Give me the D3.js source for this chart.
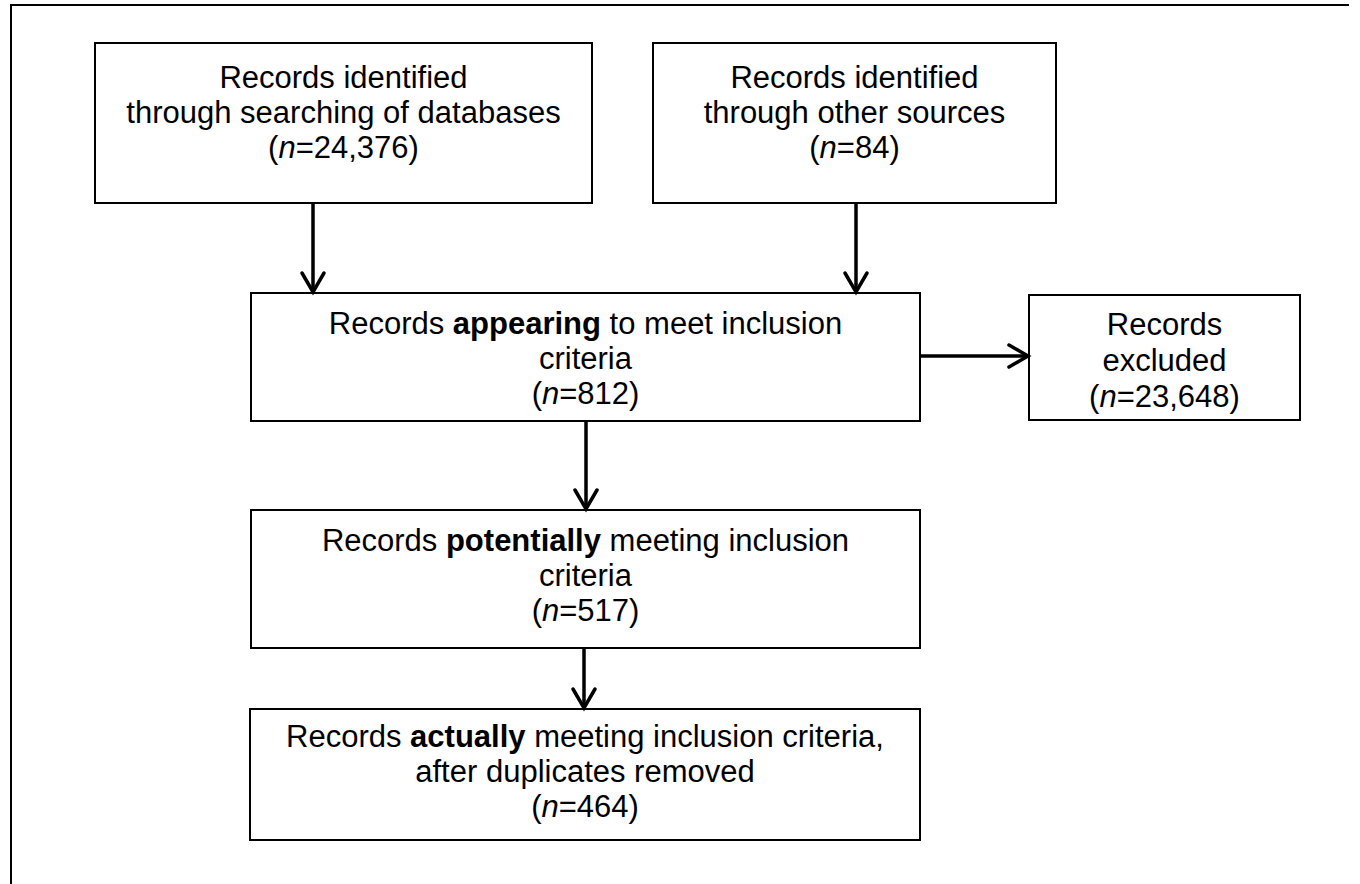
<!DOCTYPE html>
<html>
<head>
<meta charset="utf-8">
<script src="https://cdn.jsdelivr.net/npm/d3@7"></script>
<style>
  html, body { margin: 0; padding: 0; background: #fff; }
  svg { display: block; }
  text { font-family: "Liberation Sans", Arial, sans-serif; font-size: 31px; fill: #000; }
</style>
</head>
<body>
<svg id="chart" width="1360" height="884"></svg>
<script>
// ---- Data ----
const stageIds = ["db", "other", "appearing", "potential", "actual", "excluded"];
const stageLabels = [
  "Records identified|through searching of databases",
  "Records identified|through other sources",
  "Records **appearing** to meet inclusion|criteria",
  "Records **potentially** meeting inclusion|criteria",
  "Records **actually** meeting inclusion criteria,|after duplicates removed",
  "Records|excluded"
];
const stageCounts = [24376, 84, 812, 517, 464, 23648];
const linkSources = ["db", "other", "appearing", "potential", "appearing"];
const linkTargets = ["appearing", "appearing", "potential", "actual", "excluded"];

// ---- Layout (positions, not data) ----
const layout = {
  db:        { x0: 95,   y0: 43,  x1: 592,  y1: 203, first: 88,  gap: 35 },
  other:     { x0: 653,  y0: 43,  x1: 1056, y1: 203, first: 88,  gap: 35 },
  appearing: { x0: 251,  y0: 293, x1: 920,  y1: 421, first: 334, gap: 35 },
  potential: { x0: 251,  y0: 510, x1: 920,  y1: 648, first: 551, gap: 35 },
  actual:    { x0: 250,  y0: 709, x1: 920,  y1: 840, first: 747, gap: 35 },
  excluded:  { x0: 1029, y0: 295, x1: 1300, y1: 420, first: 335, gap: 36 }
};
const arrowGeom = [
  { x1: 313, y1: 203, x2: 313, y2: 292 },
  { x1: 856, y1: 203, x2: 856, y2: 292 },
  { x1: 586, y1: 421, x2: 586, y2: 509 },
  { x1: 584, y1: 648, x2: 584, y2: 708 },
  { x1: 920, y1: 356, x2: 1028, y2: 356 }
];

const fmt = d3.format(",");
const svg = d3.select("#chart");

// outer frame (top and left edges visible)
svg.append("path")
  .attr("d", "M11,900 L11,5 L1349,5")
  .attr("fill", "none").attr("stroke", "#000").attr("stroke-width", 2);

const nodes = stageIds.map((id, i) => ({
  id, lines: stageLabels[i].split("|").concat([`(*n*=${fmt(stageCounts[i])})`]), ...layout[id]
}));

// boxes
svg.selectAll("rect.box").data(nodes).join("rect")
  .attr("class", "box")
  .attr("x", d => d.x0).attr("y", d => d.y0)
  .attr("width", d => d.x1 - d.x0).attr("height", d => d.y1 - d.y0)
  .attr("fill", "#fff").attr("stroke", "#000").attr("stroke-width", 2);

// parse simple markup into segments
function parse(line) {
  const segs = [];
  const re = /(\*\*[^*]+\*\*|\*[^*]+\*)/g;
  let last = 0, m;
  while ((m = re.exec(line))) {
    if (m.index > last) segs.push({ t: line.slice(last, m.index) });
    const s = m[0];
    if (s.startsWith("**")) segs.push({ t: s.slice(2, -2), b: true });
    else segs.push({ t: s.slice(1, -1), i: true });
    last = m.index + s.length;
  }
  if (last < line.length) segs.push({ t: line.slice(last) });
  return segs;
}

const g = svg.selectAll("g.node").data(nodes).join("g").attr("class", "node");
g.each(function(d) {
  const cx = (d.x0 + d.x1) / 2;
  d.lines.forEach((line, li) => {
    const t = d3.select(this).append("text")
      .attr("x", cx).attr("y", d.first + li * d.gap)
      .attr("text-anchor", "middle");
    parse(line).forEach(s => {
      t.append("tspan").text(s.t)
        .attr("font-weight", s.b ? "bold" : null)
        .attr("font-style", s.i ? "italic" : null);
    });
  });
});

// arrows
const links = linkSources.map((s, i) => ({ source: s, target: linkTargets[i], ...arrowGeom[i] }));
svg.selectAll("line.link").data(links).join("line")
  .attr("class", "link")
  .attr("x1", d => d.x1).attr("y1", d => d.y1)
  .attr("x2", d => d.x2).attr("y2", d => d.y2)
  .attr("stroke", "#000").attr("stroke-width", 3.5);

svg.selectAll("path.head").data(links).join("path")
  .attr("class", "head")
  .attr("d", d => {
    const ang = Math.atan2(d.y2 - d.y1, d.x2 - d.x1);
    const L = 19, W = 11;
    const bx = d.x2 - L * Math.cos(ang), by = d.y2 - L * Math.sin(ang);
    const px = -Math.sin(ang) * W, py = Math.cos(ang) * W;
    return `M${bx + px},${by + py}L${d.x2},${d.y2}L${bx - px},${by - py}`;
  })
  .attr("fill", "none").attr("stroke", "#000").attr("stroke-width", 3.5)
  .attr("stroke-linejoin", "miter").attr("stroke-linecap", "round");
</script>
</body>
</html>
